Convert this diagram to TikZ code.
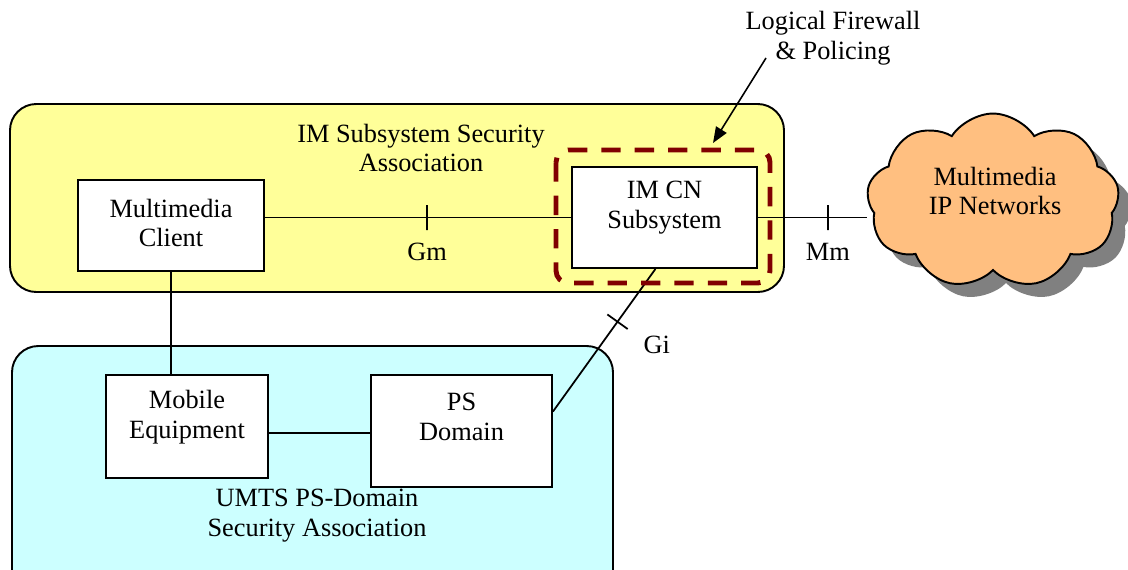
\documentclass[tikz,border=0pt]{standalone}
\usepackage{fontspec}
\setmainfont{Liberation Serif}
\usetikzlibrary{arrows.meta, shapes.symbols, shadows, positioning}

\definecolor{imyellow}{RGB}{255,255,153}
\definecolor{psblue}{RGB}{204,255,255}
\definecolor{netorange}{RGB}{255,191,128}
\definecolor{fwred}{RGB}{128,0,0}
\definecolor{shadowgray}{RGB}{128,128,128}

\tikzset{
  assoc/.style={draw, line width=1.1pt, rounded corners=15pt},
  unit/.style={draw, fill=white, line width=1.1pt, inner sep=0pt},
  txt/.style={align=center, inner sep=1pt, font=\fontsize{15}{17}\selectfont},
  link/.style={line width=1pt},
  tickmark/.style={draw, sloped, line width=1pt, minimum width=0pt, minimum height=0.5cm, inner sep=0pt},
  firewall/.style={draw=fwred, line width=2.8pt, dash pattern=on 11pt off 8pt, rounded corners=7pt},
}

\begin{document}
\begin{tikzpicture}[x=0.02cm, y=-0.02cm]
	% Frame
	\clip (0,0) rectangle (1128,569);
	
	% Security associations
	\draw[assoc, fill=imyellow] (10,104) rectangle (784,292);
	\draw[assoc, fill=psblue] (12,346) rectangle (613,600);
	\node[txt] (imsa) at (421,148) {IM Subsystem Security\\Association};
	\node[txt] (pssa) at (317,516) {UMTS PS-Domain\\Security Association};
	
	% Network cloud
	\node[cloud, cloud puffs=9, cloud puff arc=115, aspect=1.45, draw, fill=netorange, line width=1.1pt,
		minimum width=5.05cm, minimum height=3.5cm,
		drop shadow={shadow xshift=0.26cm, shadow yshift=-0.26cm, fill=shadowgray, opacity=1}] (net) at (993,201) {};
	\node[txt] (netlbl) at (995,191) {Multimedia\\IP Networks};
	
	% The units
	\node[unit, minimum width=3.72cm, minimum height=1.82cm] (client) at (171,225.5) {};
	\node[txt] (clientlbl) at (171,223) {Multimedia\\Client};
	\node[unit, minimum width=3.70cm, minimum height=2.02cm] (imcn) at (664.5,217.5) {};
	\node[txt] (imcnlbl) at (664.5,208) {IM CN\\Subsystem};
	\node[unit, minimum width=3.24cm, minimum height=2.06cm] (me) at (187,426.5) {};
	\node[txt] (melbl) at (187,417) {Mobile\\Equipment};
	\node[unit, minimum width=3.62cm, minimum height=2.24cm] (ps) at (461.5,431) {};
	\node[txt] (pslbl) at (461.5,417) {PS\\Domain};
	
	% Interfaces
	\draw[link] (imcn.west) -- node[pos=0.47, tickmark] (gmtick) {} (imcn.west -| client.east);
	\node[txt, below=0.2cm of gmtick] (gm) {Gm};
	\draw[link] (imcn.east) -- node[pos=0.64, tickmark] (mmtick) {} (imcn.east -| net.west);
	\node[txt, below=0.2cm of mmtick] (mm) {Mm};
	\draw[link] (ps.12) -- node[pos=0.63, tickmark] (gitick) {} (imcn.260);
	\node[txt, below right=0.1cm and 0.25cm of gitick] (gi) {Gi};
	\draw[link] (client.south) -- (client.south |- me.north);
	\draw[link] ([yshift=-0.13cm]me.east) -- ([yshift=-0.13cm]me.east -| ps.west);
	
	% Firewall
	\draw[firewall] (556,150) rectangle (770,283);
	\node[txt] (fwlbl) at (833,38) {Logical Firewall\\\& Policing};
	\coordinate (fwstart) at (766,58);
	\coordinate (fwtip) at (713,143);
	\draw[line width=0.9pt, -{Triangle[length=9pt, width=7pt]}] (fwstart) -- (fwtip);
\end{tikzpicture}
\end{document}
